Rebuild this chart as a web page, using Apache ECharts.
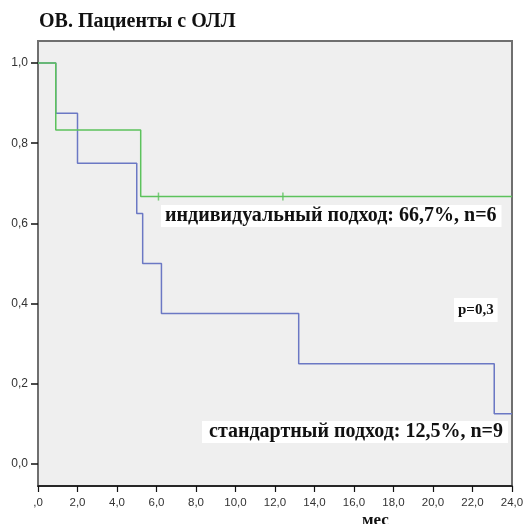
<!DOCTYPE html>
<html><head><meta charset="utf-8">
<script src="https://cdn.jsdelivr.net/npm/echarts@6/dist/echarts.min.js"></script>
<style>html,body{margin:0;padding:0;background:#fff}#c{width:523px;height:524px}</style>
</head><body><div id="c"></div>
<script>
var title = 'ОВ. Пациенты с ОЛЛ';
var xTicks = [0,2,4,6,8,10,12,14,16,18,20,22,24];
var yTicks = [0,0.2,0.4,0.6,0.8,1.0];
var greenName = 'индивидуальный подход: 66,7%, n=6';
var greenX = [0, 0.9, 5.2, 24];
var greenY = [1.0, 0.833, 0.667, 0.667];
var greenCensorX = [6.1, 12.4];
var greenCensorY = [0.667, 0.667];
var blueName = 'стандартный подход: 12,5%, n=9';
var blueX = [0, 0.9, 2.0, 5.0, 5.3, 6.25, 13.2, 23.1, 24];
var blueY = [1.0, 0.875, 0.75, 0.625, 0.5, 0.375, 0.25, 0.125, 0.125];
var pText = 'p=0,3';
var xName = 'мес';

function zip(a,b){return a.map(function(v,i){return [v,b[i]];});}
var chart = echarts.init(document.getElementById('c'));
var serif = '"Liberation Serif","Times New Roman",serif';
var sans = '"Liberation Sans",Arial,sans-serif';
chart.setOption({
  animation:false,
  grid:{left:38,right:11,top:41,bottom:38,outerBoundsMode:'none',containLabel:false,show:true,backgroundColor:'#efefef',borderColor:'#6f6f6f',borderWidth:2},
  title:{text:title,left:34,top:7,textStyle:{fontFamily:serif,fontWeight:'bold',fontSize:20,color:'#111'}},
  xAxis:{type:'value',min:0,max:24,interval:2,
    axisLine:{show:true,onZero:false,lineStyle:{color:'#111',width:1.5}},
    axisTick:{show:true,length:6,lineStyle:{color:'#111',width:1.2}},
    axisLabel:{fontFamily:sans,fontSize:11.5,color:'#333',margin:11,
      formatter:function(v){return v===0?',0':v.toFixed(1).replace('.',',');}},
    splitLine:{show:false}},
  yAxis:{type:'value',min:-0.055,max:1.055,
    axisLine:{show:true,onZero:false,lineStyle:{color:'#6f6f6f',width:2}},
    axisTick:{show:true,length:7,customValues:yTicks,lineStyle:{color:'#111',width:1.5}},
    axisLabel:{customValues:yTicks,fontFamily:sans,fontSize:12,color:'#333',margin:10,
      formatter:function(v){return v.toFixed(1).replace('.',',');}},
    splitLine:{show:false}},
  series:[
    {type:'line',name:blueName,step:'end',data:zip(blueX,blueY),symbol:'none',
      lineStyle:{color:'#6b78c4',width:1.5}},
    {type:'line',name:greenName,step:'end',data:zip(greenX,greenY),symbol:'none',
      lineStyle:{color:'#5cc25c',width:1.5}},
    {type:'scatter',data:zip(greenCensorX,greenCensorY),symbol:'rect',symbolSize:[1.5,8],
      itemStyle:{color:'#5cc25c'}}
  ],
  graphic:[
    {type:'text',left:161,top:205,style:{text:greenName,font:'bold 20px '+serif,fill:'#111',backgroundColor:'#fff',padding:[1,5,1,4]}},
    {type:'text',left:454,top:298,style:{text:pText,font:'bold 15px '+serif,fill:'#111',backgroundColor:'#fff',padding:[5,4,4,4]}},
    {type:'text',left:202,top:421,style:{text:blueName,font:'bold 20px '+serif,fill:'#111',backgroundColor:'#fff',padding:[1,5,1,7]}},
    {type:'text',left:362,top:512,style:{text:xName,font:'bold 17px '+serif,fill:'#111'}}
  ]
});
</script></body></html>
